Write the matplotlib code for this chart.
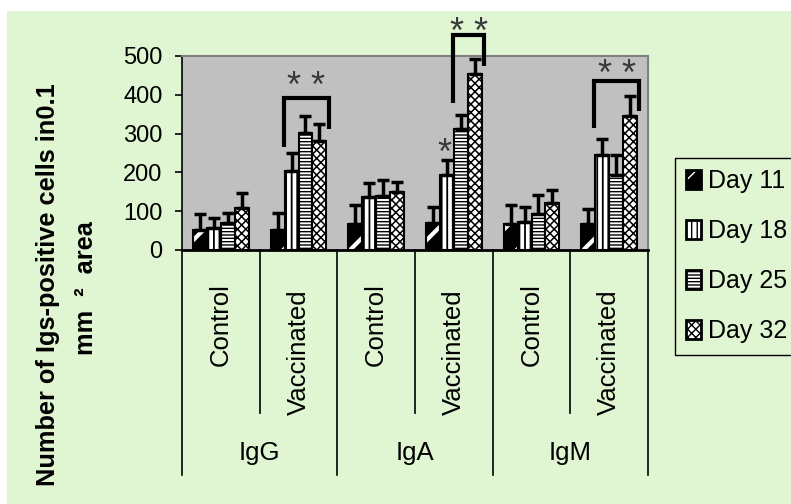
import matplotlib
matplotlib.use("Agg")
import matplotlib.pyplot as plt
from matplotlib import transforms
from matplotlib.patches import Patch, Rectangle
from matplotlib.lines import Line2D
import numpy as np

plt.rcParams['font.family'] = ['Liberation Sans', 'DejaVu Sans']

# ---- data -------------------------------------------------------------
immunoglobulins = ['IgG', 'IgA', 'IgM']
treatments = ['Control', 'Vaccinated']
days = ['Day 11', 'Day 18', 'Day 25', 'Day 32']

# means per group (IgG-C, IgG-V, IgA-C, IgA-V, IgM-C, IgM-V)
day11_mean = [52, 52, 67, 69, 67, 67]
day18_mean = [56, 204, 136, 194, 73, 245]
day25_mean = [69, 302, 140, 311, 92, 193]
day32_mean = [107, 282, 149, 453, 121, 345]

# upper error (SD)
day11_err = [41, 44, 50, 43, 50, 38]
day18_err = [26, 47, 36, 37, 39, 42]
day25_err = [27, 43, 40, 36, 50, 52]
day32_err = [39, 43, 25, 39, 33, 52]

yticks = [0, 100, 200, 300, 400, 500]

# significance brackets: group, first day, last day, top, left end, right end
bracket_group = [1, 3, 5]
bracket_first = [1, 2, 1]
bracket_last = [3, 3, 3]
bracket_top = [391, 553, 436]
bracket_left_end = [265, 378, 315]
bracket_right_end = [311, 475, 358]
bracket_text = ['* *', '* *', '* *']
bracket_text_y = [448, 587, 479]

# single-star marker over IgA vaccinated Day 18
single_group, single_day, single_y = 3, 1, 276

# ---- style ------------------------------------------------------------
W, H = 791, 504
green = '#E0F5D2'
gray = '#C0C0C0'
star_color = '#3a3a3a'
fs_tick = 17
fs = 18.5
fs_leg = 18

means = [day11_mean, day18_mean, day25_mean, day32_mean]
errs = [day11_err, day18_err, day25_err, day32_err]
faces = ['black', 'white', 'white', 'white']
hatch_colors = ['white', 'black', 'black', 'black']
hatches = ['/', '|||', '-----', 'xxxx']
hatch_widths = [3.0, 1.3, 1.0, 1.1]

fig = plt.figure(figsize=(W / 100, H / 100), dpi=100, facecolor='white')
fig.patches.append(Rectangle((7 / W, 0), 1 - 7 / W, 1 - 11 / H,
                             transform=fig.transFigure, facecolor=green,
                             edgecolor='none', zorder=-10))

ax = fig.add_axes([182 / W, 1 - 250 / H, 466 / W, 194 / H])
ax.set_facecolor(gray)

n_groups = len(immunoglobulins) * len(treatments)
x = np.arange(n_groups)
bw = 0.18

handles = []
for i in range(len(days)):
    xi = x + (i - 1.5) * bw
    with plt.rc_context({'hatch.linewidth': hatch_widths[i]}):
        ax.bar(xi, means[i], width=bw, color=faces[i],
               edgecolor=hatch_colors[i], hatch=hatches[i], linewidth=0,
               zorder=2)
        hatch_patch = Patch(facecolor=faces[i], edgecolor=hatch_colors[i],
                            hatch=hatches[i], linewidth=0)
    ax.bar(xi, means[i], width=bw, fill=False, edgecolor='black',
           linewidth=1.5, zorder=3)
    ax.errorbar(xi, means[i], yerr=[np.zeros(n_groups), errs[i]], fmt='none',
                ecolor='black', elinewidth=2.5, capsize=4, capthick=2.5,
                zorder=4)
    handles.append((hatch_patch,
                    Patch(fill=False, edgecolor='black', linewidth=2)))

ax.set_xlim(-0.5, n_groups - 0.5)
ax.set_ylim(0, 500)
ax.set_yticks(yticks)
ax.set_yticklabels([str(t) for t in yticks], fontsize=fs_tick)
ax.tick_params(axis='y', length=5, width=1.2, pad=9, direction='out')
ax.set_xticks([])
for side in ['top', 'right']:
    ax.spines[side].set_color('#808080')
    ax.spines[side].set_linewidth(1.5)
ax.spines['left'].set_linewidth(1.2)
ax.spines['bottom'].set_linewidth(2)

# significance brackets
for g, d0, d1, top, le, re, txt, ty in zip(bracket_group, bracket_first,
                                           bracket_last, bracket_top,
                                           bracket_left_end, bracket_right_end,
                                           bracket_text, bracket_text_y):
    xl = g + (d0 - 1.5) * bw - bw / 2 - 0.01
    xr = g + (d1 - 1.5) * bw + bw / 2 + 0.03
    ax.plot([xl, xl, xr, xr], [le, top, top, re], color='black', lw=3,
            solid_joinstyle='miter', solid_capstyle='butt', clip_on=False,
            zorder=5)
    ax.annotate(txt, xy=((xl + xr) / 2, ty), xytext=(0, -15),
                textcoords='offset points', ha='center', va='baseline',
                fontsize=26, color=star_color, annotation_clip=False)

ax.annotate('*', xy=(single_group + (single_day - 1.5) * bw - 0.03, single_y),
            xytext=(0, -15), textcoords='offset points', ha='center',
            va='baseline', fontsize=26, color=star_color,
            annotation_clip=False)

# two-level category axis below the plot
tr = transforms.blended_transform_factory(ax.transData, fig.transFigure)
fy = lambda px: 1 - px / H
for b in np.arange(-0.5, n_groups, 1.0):
    is_group_edge = int(round(b + 0.5)) % len(treatments) == 0
    ax.add_line(Line2D([b, b], [fy(250), fy(475 if is_group_edge else 413)],
                       transform=tr, color='black', lw=1.2, clip_on=False))
for k in range(n_groups):
    ax.text(k, fy(283 + 6 * (k % len(treatments))),
            treatments[k % len(treatments)], transform=tr,
            rotation=90, ha='center', va='top', fontsize=fs)
for j, name in enumerate(immunoglobulins):
    ax.text(j * len(treatments) + 0.5, fy(453), name, transform=tr,
            ha='center', va='center', fontsize=fs)

# y-axis title (two lines)
fig.text(48 / W, fy(285), 'Number of Igs-positive cells in0.1', rotation=90,
         ha='center', va='center', fontsize=18.3, fontweight='bold')
fig.text(86 / W, fy(288), 'mm  ²  area', rotation=90, ha='center',
         va='center', fontsize=18.3, fontweight='bold')

leg = fig.legend(handles, days, loc='upper left',
                 bbox_to_anchor=(675 / W, 1 - 158 / H), frameon=True,
                 fancybox=False, edgecolor='black', facecolor=green,
                 framealpha=1, fontsize=fs_leg, handlelength=0.58,
                 handleheight=0.8, handletextpad=0.3, labelspacing=1.04,
                 borderpad=0.45, borderaxespad=0)
leg.get_frame().set_linewidth(1.0)

fig.savefig('out.png', dpi=100, facecolor=fig.get_facecolor())
